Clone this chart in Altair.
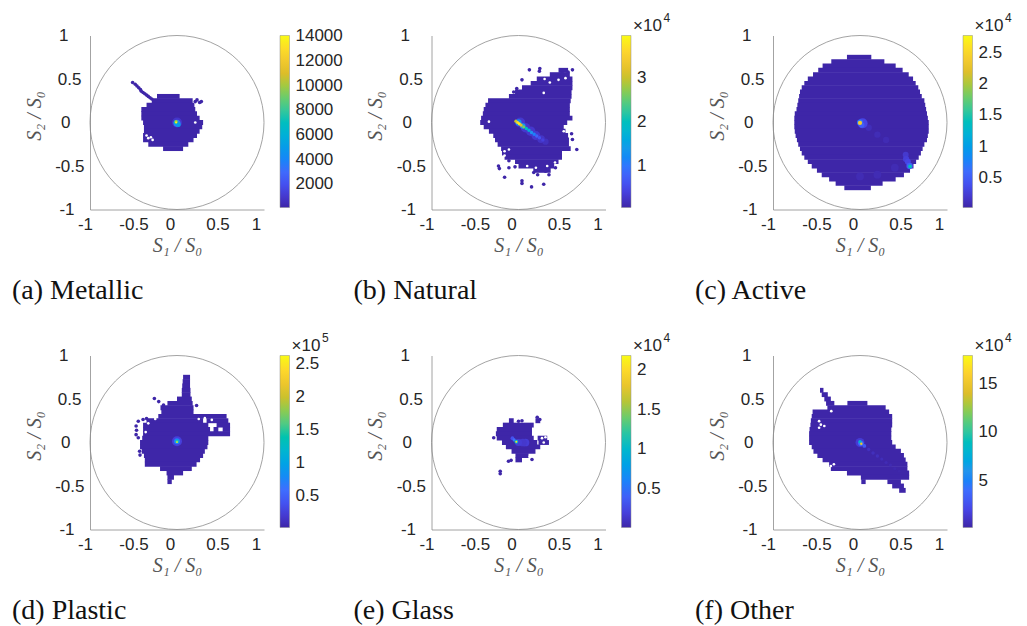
import numpy as np
import pandas as pd
import altair as alt

PARULA = ["#3e26a8", "#4747eb", "#3e6fff", "#2796eb", "#08b5d0", "#31c69f", "#81cc59", "#dcbd29", "#fccf30", "#f9fb14"]
SANS = "Liberation Sans"
SERIF = "Liberation Serif"
INK = "#262626"
GRAY = "#8c8c8c"
TICKS = [-1, -0.5, 0, 0.5, 1]

# rows of the filled region: (S2, S1 left, S1 right)
a_rows = [(0.30,-0.23,0.03),(0.25,-0.29,0.18),(0.20,-0.35,0.20),(0.15,-0.41,0.21),(0.10,-0.41,0.23),(0.05,-0.41,0.26),
          (0.00,-0.39,0.30),(-0.05,-0.38,0.29),(-0.10,-0.38,0.26),(-0.15,-0.39,0.23),(-0.20,-0.39,0.19),(-0.25,-0.33,0.13),(-0.30,-0.16,0.07)]
a_dots = [(-0.51,0.46),(-0.48,0.44),(-0.46,0.42),(-0.44,0.40),(-0.42,0.38),(-0.41,0.36),(-0.39,0.345),(-0.37,0.33),(-0.35,0.315),(-0.33,0.30),(-0.31,0.285),(-0.29,0.27),
          (0.21,0.24),(0.26,0.23),(0.28,0.24),(0.23,0.26)]
a_holes = [(-0.33,-0.18),(-0.28,-0.20),(-0.35,-0.15),(-0.30,-0.17),(0.21,0.0)]
a_hot = [(0.0,0.0,900,100),(0.0,-0.01,3500,50),(-0.01,0.0,6000,24),(0.015,-0.025,5000,24),(-0.01,0.01,10000,10),(-0.01,0.0,14000,4)]

b_rows = [(0.60,0.46,0.57),(0.55,0.36,0.59),(0.50,0.21,0.62),(0.45,0.14,0.62),(0.40,0.04,0.62),(0.35,-0.04,0.61),(0.30,-0.11,0.61),(0.25,-0.35,0.60),
          (0.20,-0.38,0.59),(0.15,-0.40,0.59),(0.10,-0.41,0.59),(0.05,-0.43,0.62),(0.00,-0.44,0.56),(-0.05,-0.40,0.52),(-0.10,-0.34,0.54),(-0.15,-0.29,0.57),
          (-0.20,-0.27,0.58),(-0.25,-0.24,0.58),(-0.30,-0.20,0.60),(-0.35,-0.19,0.50),(-0.40,-0.16,0.50),(-0.45,-0.04,0.46),(-0.50,0.0,0.41),(-0.55,0.17,0.37)]
b_dots = [(0.125,0.605),(0.245,0.62),(0.24,0.59),(0.04,0.49),(0.46,0.53),(0.57,0.58),(0.62,0.605),(0.50,0.57),(-0.02,0.39),(-0.055,0.35),(-0.03,0.31),(0.67,-0.31),
          (0.62,-0.195),(0.61,-0.13),(-0.22,-0.53),(-0.23,-0.50),(-0.16,-0.63),(0.04,-0.67),(0.04,-0.70),(0.15,-0.74),(0.29,-0.71),(-0.11,-0.44),(0.22,-0.60),(0.35,-0.60),
          (0.175,-0.575),(0.425,-0.52),(0.31,-0.56),(-0.11,-0.52),(-0.04,-0.51)]
b_holes = [(-0.34,0.01),(0.29,0.34),(0.54,0.51),(0.46,0.49),(0.52,-0.10),(-0.16,-0.33),(-0.16,-0.38),(-0.11,-0.31),(0.30,0.50),(0.36,0.46),(0.10,-0.50),(0.20,-0.52),(0.33,-0.50),(0.42,-0.46)]
b_hot = [(0.02,0.0,3000,100),(0.08,-0.06,3000,90),(0.14,-0.10,3000,90),(0.20,-0.15,3000,80),(0.26,-0.19,2500,60),(0.31,-0.22,2000,40),
         (0.0,0.0,12000,40),(0.05,-0.04,14000,30),(-0.03,0.015,30000,10),(-0.01,0.0,36000,10),(0.01,-0.015,38000,10),(0.03,-0.03,32000,10),(0.06,-0.05,26000,10),
         (0.09,-0.07,20000,12),(0.12,-0.09,17000,12),(0.15,-0.115,13000,12),(0.18,-0.135,11000,12),(0.21,-0.155,8000,12),(0.24,-0.175,6000,12),(0.28,-0.2,4000,12)]

c_rows = [(0.75,-0.15,0.13),(0.70,-0.33,0.28),(0.65,-0.43,0.41),(0.60,-0.48,0.49),(0.55,-0.54,0.56),(0.50,-0.60,0.61),(0.45,-0.64,0.64),(0.40,-0.67,0.67),(0.35,-0.69,0.69),
          (0.30,-0.70,0.71),(0.25,-0.71,0.74),(0.20,-0.72,0.75),(0.15,-0.73,0.76),(0.10,-0.75,0.77),(0.05,-0.755,0.78),(0.00,-0.755,0.79),(-0.05,-0.755,0.79),(-0.10,-0.75,0.79),
          (-0.15,-0.74,0.78),(-0.20,-0.725,0.77),(-0.25,-0.71,0.74),(-0.30,-0.69,0.72),(-0.35,-0.67,0.70),(-0.40,-0.64,0.675),(-0.45,-0.60,0.645),(-0.50,-0.555,0.615),
          (-0.55,-0.495,0.575),(-0.60,-0.44,0.505),(-0.65,-0.355,0.41),(-0.70,-0.28,0.26),(-0.75,-0.18,0.125)]
c_dots = []
c_holes = []
c_hot = [(0.1,-0.06,1000,40),(0.2,-0.14,900,40),(0.3,-0.2,800,40),(0.0,-0.62,800,60),(0.2,-0.6,800,60),(0.4,-0.52,800,60),
         (0.03,-0.01,3000,100),(0.0,0.0,7000,36),(0.02,-0.03,5000,30),(0.0,-0.005,24000,18),
         (0.525,-0.37,2000,36),(0.53,-0.42,2500,40),(0.55,-0.45,3000,36),(0.57,-0.5,5000,40),(0.575,-0.505,14000,14)]

d_rows = [(0.75,0.07,0.15),(0.70,0.065,0.15),(0.65,0.06,0.15),(0.60,0.055,0.155),(0.55,0.055,0.155),(0.50,0.0,0.17),(0.45,-0.11,0.18),(0.40,-0.19,0.19),(0.35,-0.18,0.19),
          (0.30,-0.215,0.57),(0.25,-0.35,0.30),(0.25,0.34,0.59),(0.20,-0.39,0.36),(0.20,0.455,0.61),(0.15,-0.39,0.38),(0.15,0.42,0.475),(0.15,0.525,0.61),(0.10,-0.39,0.61),
          (0.05,-0.40,0.36),(0.00,-0.425,0.36),(-0.05,-0.425,0.35),(-0.10,-0.405,0.32),(-0.15,-0.38,0.30),(-0.20,-0.37,0.265),(-0.25,-0.37,0.225),(-0.30,-0.195,0.17),
          (-0.35,-0.12,0.07),(-0.40,-0.11,-0.035),(-0.45,-0.11,-0.06)]
d_dots = [(-0.445,0.245),(-0.39,0.265),(-0.35,0.275),(-0.47,0.19),(-0.465,0.14),(-0.47,0.09),(-0.445,0.055),(-0.43,-0.10),(-0.425,-0.145),(-0.26,0.505),(-0.21,0.47),(-0.155,0.43),(0.225,0.425)]
d_holes = [(0.25,0.27),(0.32,0.28),(0.40,0.26),(-0.25,0.27),(-0.33,0.22),(-0.36,0.12)]
d_hot = [(0.0,0.015,25000,100),(0.0,0.015,70000,36),(0.0,0.015,110000,16),(0.0,0.01,150000,8),(0.0,0.005,250000,3)]

e_rows = [(0.25,-0.11,-0.055),(0.25,0.195,0.25),(0.20,-0.18,0.175),(0.15,-0.25,0.155),(0.10,-0.26,0.155),(0.05,-0.25,0.175),(0.05,0.22,0.33),(0.00,-0.19,0.215),(0.00,0.23,0.35),
          (-0.05,-0.145,0.25),(-0.10,-0.08,0.195),(-0.15,-0.035,0.115),(-0.20,-0.035,0.04)]
e_dots = [(-0.115,-0.215),(-0.085,-0.205),(-0.21,-0.33),(-0.21,-0.36),(-0.285,0.055),(0.155,-0.195),(0.215,0.29),(0.245,0.265),(0.04,0.25),(0.0,0.245)]
e_holes = [(0.27,0.05),(0.31,0.06),(0.29,0.0),(0.13,-0.16),(0.20,0.12)]
e_hot = [(0.08,0.0,1800,60),(0.05,0.0,1500,60),(0.0,0.0,1800,50),(-0.07,0.05,3000,14),(-0.05,0.03,5000,10),(-0.025,0.01,10000,14),(-0.025,0.01,20000,4)]

f_rows = [(0.60,-0.46,-0.42),(0.55,-0.44,-0.37),(0.50,-0.41,-0.335),(0.45,-0.39,-0.295),(0.45,-0.145,0.085),(0.40,-0.375,0.295),(0.35,-0.545,0.335),(0.30,-0.555,0.37),(0.25,-0.565,0.37),
          (0.20,-0.57,0.37),(0.15,-0.58,0.36),(0.10,-0.585,0.36),(0.05,-0.585,0.36),(0.00,-0.585,0.37),(-0.05,-0.555,0.41),(-0.10,-0.535,0.47),(-0.15,-0.49,0.505),(-0.20,-0.43,0.525),
          (-0.25,-0.355,0.545),(-0.30,-0.335,0.545),(-0.35,-0.15,0.565),(-0.40,0.01,0.565),(-0.45,0.015,0.065),(-0.45,0.315,0.47),(-0.50,0.37,0.505),(-0.55,0.45,0.525)]
f_dots = []
f_holes = [(-0.47,0.245),(-0.41,0.19),(-0.47,0.17),(-0.45,0.205),(-0.30,-0.25),(-0.335,-0.27),(-0.33,0.36)]
f_hot = [(0.0,0.0,15000,80),(0.01,-0.01,40000,30),(0.05,-0.04,30000,14),(0.1,-0.08,9000,12),(0.15,-0.12,8000,12),(0.2,-0.155,8000,12),(0.25,-0.19,7000,10),
         (0.3,-0.23,6000,10),(0.35,-0.26,5000,10),(0.4,-0.3,4000,10),(0.45,-0.33,3000,8),(0.0,0.01,80000,12),(0.015,-0.015,150000,6)]

captions = ["(a) Metallic", "(b) Natural", "(c) Active", "(d) Plastic", "(e) Glass", "(f) Other"]
domains = [(130, 14070), (540, 39600), (230, 27830), (2900, 263600), (160, 21800), (2000, 179000)]
bar_ticks = [[2000,4000,6000,8000,10000,12000,14000], [10000,20000,30000], [5000,10000,15000,20000,25000],
             [50000,100000,150000,200000,250000], [5000,10000,15000,20000], [50000,100000,150000]]
divisors = [1, 10000, 10000, 100000, 10000, 10000]
exponents = [None, "4", "4", "5", "4", "4"]

x_offset = {"condition": [{"test": "datum.value==-1", "value": -5},
                          {"test": "datum.value==0", "value": -7},
                          {"test": "datum.value==0.5", "value": -3},
                          {"test": "datum.value==1", "value": -8}], "value": 0}
y_pad = {"condition": [{"test": "datum.value==1", "value": 22},
                       {"test": "datum.value==0.5", "value": 9},
                       {"test": "datum.value==0", "value": 20},
                       {"test": "datum.value==-1", "value": 16}], "value": 6}


def panel(rows, dots, holes, hot, caption, dom, ticks, div, exp):
    stops = [float(v) for v in np.linspace(dom[0], dom[1], len(PARULA))]
    scale = alt.Scale(domain=stops, range=PARULA, clamp=True)
    color = alt.Color("v:Q", scale=scale, legend=alt.Legend(
        type="gradient", orient="right", offset=16, padding=0, title=None,
        gradientLength=172, gradientThickness=9.5, gradientStrokeColor=GRAY, gradientStrokeWidth=0.5,
        values=ticks, labelExpr=f"'' + (datum.value/{div})", labelFont=SANS, labelFontSize=17,
        labelColor=INK, labelOffset=6))
    xs = alt.Scale(domain=[-1, 1], nice=False, zero=False)
    x = alt.X("x:Q", scale=xs, axis=alt.Axis(
        values=TICKS, grid=False, ticks=False, domainColor=GRAY, domainWidth=0.8,
        labelExpr="'' + datum.value", labelFont=SANS, labelFontSize=17, labelColor=INK, labelPadding=7,
        labelOffset=x_offset, labelOverlap=False, labelFlush=False, labelBound=False,
        title="S₁ / S₀", titleFont=SERIF, titleFontStyle="italic", titleFontWeight="normal", titleFontSize=20,
        titleColor="#555555", titlePadding=3))
    y = alt.Y("y:Q", scale=xs, axis=alt.Axis(
        values=TICKS, grid=False, ticks=False, domainColor=GRAY, domainWidth=0.8,
        labelExpr="'' + datum.value", labelFont=SANS, labelFontSize=17, labelColor=INK, labelPadding=y_pad,
        labelOverlap=False, labelFlush=False, labelBound=False,
        title="S₂ / S₀", titleFont=SERIF, titleFontStyle="italic", titleFontWeight="normal", titleFontSize=20,
        titleColor="#555555", titleX=-46, titleY=80))

    df_rows = pd.DataFrame(rows, columns=["s", "x", "x2"]).assign(v=dom[0])
    df_rows["y"] = df_rows["s"] + 0.028
    df_rows["y2"] = df_rows["s"] - 0.028
    layers = [
        alt.Chart(pd.DataFrame({"x": [0], "y": [0]})).mark_point(
            shape="circle", filled=False, size=30276, stroke=GRAY, strokeWidth=0.8, opacity=1
        ).encode(x=x, y=y),
        alt.Chart(df_rows).mark_rect().encode(x=x, x2="x2:Q", y=y, y2="y2:Q", color=color),
    ]
    if dots:
        layers.append(alt.Chart(pd.DataFrame(dots, columns=["x", "y"]).assign(v=dom[0])).mark_circle(
            size=13, opacity=1).encode(x=x, y=y, color=color))
    if holes:
        layers.append(alt.Chart(pd.DataFrame(holes, columns=["x", "y"])).mark_circle(
            size=7, opacity=1, color="white").encode(x=x, y=y))
    df_hot = pd.DataFrame(hot, columns=["x", "y", "v", "s"]).reset_index()
    layers.append(alt.Chart(df_hot).mark_circle(opacity=1).encode(
        x=x, y=y, color=color,
        size=alt.Size("s:Q", scale=None, legend=None),
        order=alt.Order("index:Q")))
    layers.append(alt.Chart(pd.DataFrame({"t": [caption]})).mark_text(
        align="left", baseline="middle", font=SERIF, fontSize=28, color="#111111"
    ).encode(x=alt.value(-78), y=alt.value(255), text="t:N"))
    if exp:
        layers.append(alt.Chart(pd.DataFrame({"t": ["×10"]})).mark_text(
            align="left", baseline="middle", font=SANS, fontSize=17, color=INK
        ).encode(x=alt.value(201.5), y=alt.value(-10), text="t:N"))
        layers.append(alt.Chart(pd.DataFrame({"t": [exp]})).mark_text(
            align="left", baseline="middle", font=SANS, fontSize=12, color=INK
        ).encode(x=alt.value(232), y=alt.value(-18), text="t:N"))
    return alt.layer(*layers).properties(width=174, height=174)


data = [(a_rows, a_dots, a_holes, a_hot), (b_rows, b_dots, b_holes, b_hot), (c_rows, c_dots, c_holes, c_hot),
        (d_rows, d_dots, d_holes, d_hot), (e_rows, e_dots, e_holes, e_hot), (f_rows, f_dots, f_holes, f_hot)]
panels = [panel(*data[i], captions[i], domains[i], bar_ticks[i], divisors[i], exponents[i]) for i in range(6)]

chart = alt.concat(*panels, columns=3, spacing={"row": 146, "column": 167.5}, bounds="flush").properties(
    padding={"left": 4, "top": 3.5, "right": 0, "bottom": 0}, background="white"
).resolve_scale(color="independent", size="independent").configure_view(stroke=None)

chart.save("out.html", embed_options={"renderer": "svg", "actions": False})
